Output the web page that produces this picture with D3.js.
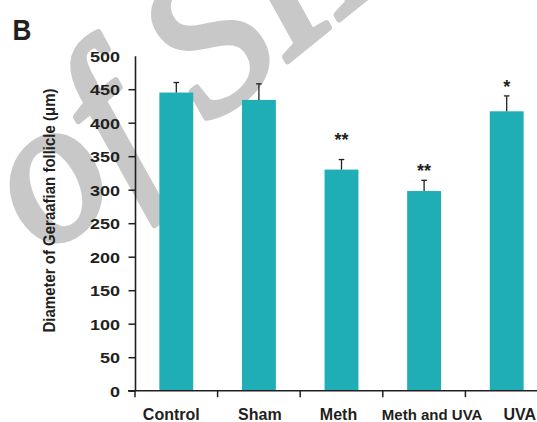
<!DOCTYPE html>
<html>
<head>
<meta charset="utf-8">
<script src="https://cdn.jsdelivr.net/npm/d3@7"></script>
<style>
  html, body { margin: 0; padding: 0; background: #fff; }
  svg { display: block; }
  text.sans { font-family: "Liberation Sans", Arial, sans-serif; }
  text.wm { font-family: "Liberation Serif", "Times New Roman", serif; font-style: italic; }
</style>
</head>
<body>
<svg id="chart" width="537" height="422"></svg>
<script>
// ---- data ----
const categories = ["Control", "Sham", "Meth", "Meth and UVA", "UVA"];
const means      = [445, 434, 330, 298, 417];
const errors     = [15, 24, 15, 16, 23];
const stars      = ["", "", "**", "**", "*"];
const yTicks     = [0, 50, 100, 150, 200, 250, 300, 350, 400, 450, 500];
const yTitle     = "Diameter of Geraafian follicle (\u03bcm)";
const panelLabel = "B";

// ---- layout ----
const W = 537, H = 422;
const axisX = 135, y0 = 390.7, yTop = 55.7;
const barColor = "#1FADB6";
const ink = "#231f20";
const labelShift = [-5, 1, -3, 8, 13];
const starGap = [0, 0, 24, 13, 13];

const svg = d3.select("#chart");

// watermark
const wm = svg.append("g")
  .attr("transform", "translate(46,257) rotate(-39)")
  .attr("fill", "#c8c8c8")
  .attr("stroke", "#c8c8c8")
  .attr("stroke-width", 6)
  .attr("stroke-linejoin", "round");
wm.append("text").attr("class", "wm").attr("font-size", 204).attr("x", -50).attr("text-anchor", "end").text("Archive");
wm.append("text").attr("class", "wm").attr("font-size", 204).attr("x", 0).attr("text-anchor", "start").text("of SID");

const x = d3.scaleBand()
  .domain(categories)
  .range([axisX, axisX + 82.6 * categories.length])
  .paddingInner(0.59)
  .paddingOuter(0.295);

const y = d3.scaleLinear().domain([0, 500]).range([y0, yTop]);

// bars
svg.append("g").selectAll("rect")
  .data(categories)
  .join("rect")
  .attr("x", d => x(d))
  .attr("width", x.bandwidth())
  .attr("y", (d, i) => y(means[i]))
  .attr("height", (d, i) => y(0) - y(means[i]))
  .attr("fill", barColor);

// error bars (upper only)
const eg = svg.append("g").attr("stroke", ink).attr("stroke-width", 1.3).attr("fill", "none");
categories.forEach((c, i) => {
  const cx = x(c) + x.bandwidth() / 2;
  eg.append("line").attr("x1", cx).attr("x2", cx).attr("y1", y(means[i])).attr("y2", y(means[i] + errors[i]));
  eg.append("line").attr("x1", cx - 2.8).attr("x2", cx + 2.8).attr("y1", y(means[i] + errors[i])).attr("y2", y(means[i] + errors[i]));
});

// significance stars
svg.append("g").selectAll("text")
  .data(categories)
  .join("text")
  .attr("class", "sans")
  .attr("x", d => x(d) + x.bandwidth() / 2)
  .attr("y", (d, i) => y(means[i] + errors[i]) - starGap[i] + 10)
  .attr("text-anchor", "middle")
  .attr("font-weight", "bold")
  .attr("font-size", 18)
  .attr("fill", ink)
  .text((d, i) => stars[i]);

// y axis
const yAxis = svg.append("g")
  .attr("transform", `translate(${axisX},0)`)
  .call(d3.axisLeft(y).tickValues(yTicks).tickSize(6.5).tickSizeOuter(0));
yAxis.select(".domain").attr("stroke", ink).attr("stroke-width", 1.6);
yAxis.selectAll(".tick line").attr("stroke", ink).attr("stroke-width", 1.5)
  .attr("display", d => d === 500 ? "none" : null);
yAxis.selectAll(".tick text")
  .attr("class", "sans")
  .attr("font-family", "'Liberation Sans', Arial, sans-serif")
  .attr("font-size", 15)
  .attr("font-weight", "bold")
  .attr("fill", ink)
  .attr("x", -15 / 1.2)
  .attr("dy", "0.36em")
  .attr("transform", "scale(1.2,1)");

// x axis
const xAxis = svg.append("g")
  .attr("transform", `translate(0,${y0})`)
  .call(d3.axisBottom(x).tickSize(0).tickSizeOuter(0));
xAxis.select(".domain").attr("stroke", ink).attr("stroke-width", 1.6)
  .attr("d", `M${axisX - 7},0H${W + 20}`);
xAxis.selectAll(".tick text")
  .attr("class", "sans")
  .attr("font-family", "'Liberation Sans', Arial, sans-serif")
  .attr("font-weight", "bold")
  .attr("font-size", d => d.length > 8 ? 15 : 16)
  .attr("fill", ink)
  .attr("dy", 0)
  .attr("y", 420.5 - y0)
  .attr("x", (d, i) => labelShift[i]);
// boundary tick marks
const bounds = categories.map(c => x(c) - x.step() * x.paddingOuter());
xAxis.append("g").selectAll("line")
  .data(bounds)
  .join("line")
  .attr("x1", d => d).attr("x2", d => d)
  .attr("y1", 0).attr("y2", 6.5)
  .attr("stroke", ink).attr("stroke-width", 1.5);

// y title
svg.append("text")
  .attr("class", "sans")
  .attr("transform", "translate(55,210.5) scale(1.1,1) rotate(-90)")
  .attr("text-anchor", "middle")
  .attr("font-weight", "bold")
  .attr("font-size", 15)
  .attr("fill", ink)
  .text(yTitle);

// panel label
svg.append("text")
  .attr("class", "sans")
  .attr("transform", "translate(12.5,40) scale(0.9,1)")
  .attr("font-weight", "bold")
  .attr("font-size", 29)
  .attr("fill", ink)
  .text(panelLabel);
</script>
</body>
</html>
